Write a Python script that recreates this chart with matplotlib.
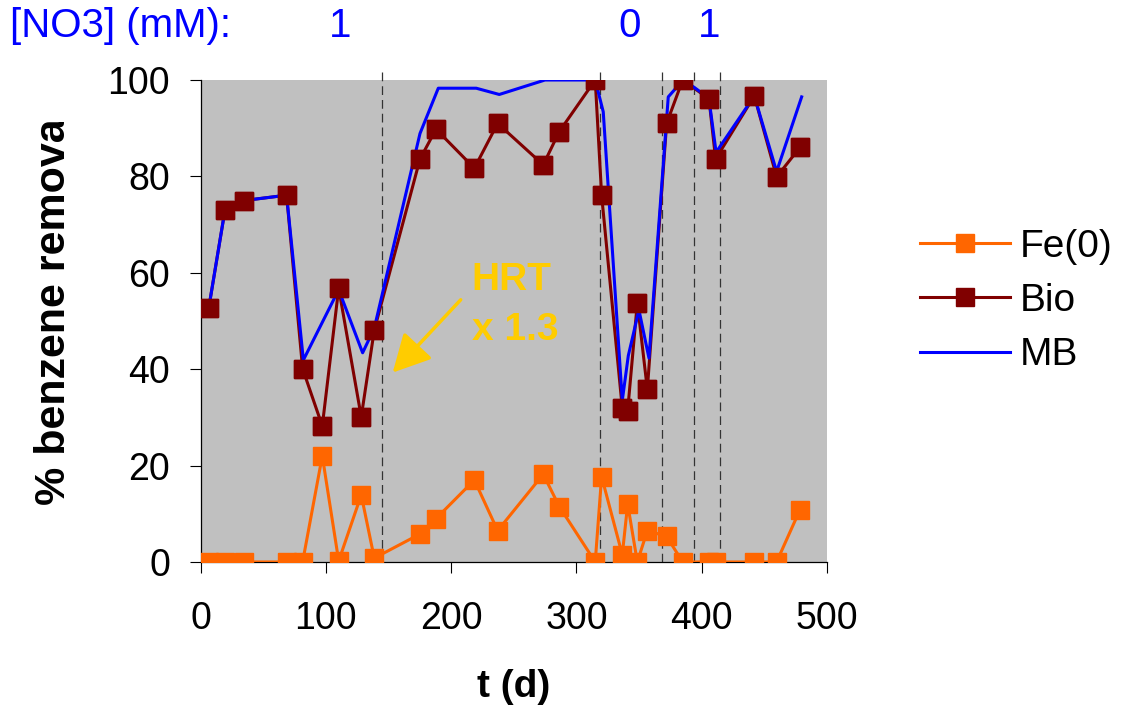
import numpy as np
import matplotlib
matplotlib.use('Agg')
import matplotlib.pyplot as plt
from matplotlib.transforms import Bbox, TransformedBbox, blended_transform_factory

plt.rcParams['font.family'] = ['Liberation Sans', 'DejaVu Sans']

# data
t_bio = [6.4, 19.4, 34.8, 68.6, 81.4, 97.1, 110.2, 128.2, 138.6, 175.1, 187.9, 218.5, 237.1, 273.5,
         286.3, 315.0, 320.1, 336.6, 340.9, 348.6, 356.6, 372.0, 384.8, 405.8, 411.1, 442.0, 459.8, 478.4]
bio = [52.6, 73.0, 75.0, 76.1, 40.1, 28.2, 56.8, 30.1, 48.1, 83.6, 89.8, 81.7, 91.0, 82.4,
       89.3, 100.0, 76.1, 31.9, 31.4, 53.8, 35.8, 91.0, 100.0, 96.1, 83.6, 96.7, 79.9, 86.0]
fe0 = [0.0, 0.0, 0.0, 0.0, 0.0, 22.0, 0.2, 13.9, 0.8, 5.8, 9.0, 17.0, 6.5, 18.2,
       11.5, 0.0, 17.7, 1.5, 12.0, 0.0, 6.5, 5.3, 0.0, 0.0, 0.0, 0.0, 0.0, 10.8]

t_mb = [6.4, 19.4, 34.8, 68.6, 82.0, 110.2, 129.3, 138.6, 175.1, 189.7, 220.0, 238.4, 274.9, 315.0,
        321.4, 336.6, 341.4, 349.9, 357.9, 373.3, 384.8, 393.3, 398.6, 405.8, 411.5, 442.0, 459.8, 479.8]
mb = [52.6, 73.0, 75.0, 76.1, 41.9, 56.5, 43.4, 48.5, 88.9, 98.3, 98.3, 97.0, 100.0, 100.0,
      93.4, 33.5, 42.8, 52.3, 42.3, 96.5, 99.9, 98.6, 97.6, 96.1, 85.0, 96.7, 81.0, 96.5]

change_days = [145, 319, 368.3, 394, 414.8]
no3_x = [111.2, 342.7, 405.8]
no3_labels = ['1', '0', '1']

orange = '#FF6600'
maroon = '#800000'
gold = '#FFCC00'

fig = plt.figure(figsize=(11.21, 7.10), dpi=100)
ax = fig.add_axes([0.179, 0.2085, 0.5587, 0.6788])
ax.set_facecolor('#C0C0C0')

for d in change_days:
    ax.plot([d, d], [0, 102], color='#333333', lw=0.9, linestyle=(0, (7, 4)),
            clip_on=False, zorder=1.5)

ax.plot(t_bio, fe0, color=orange, lw=2.2, marker='s', ms=13.5, mec=orange,
        label='Fe(0)', zorder=3)
ax.plot(t_bio, bio, color=maroon, lw=2.2, marker='s', ms=13.5, mec=maroon,
        label='Bio', zorder=2)
ax.plot(t_mb, mb, color='#0000FF', lw=2.2, label='MB', zorder=2.5)
# bio markers on top of the MB line
ax.plot(t_bio, bio, ls='none', marker='s', ms=13.5, color=maroon, zorder=4)

ax.set_xlim(0, 500)
ax.set_ylim(0, 100)
ax.set_xticks(np.arange(0, 501, 100))
ax.set_yticks(np.arange(0, 101, 20))
ax.tick_params(direction='out', length=8, width=0.8, labelsize=27)
ax.tick_params(axis='x', pad=20)
ax.tick_params(axis='y', pad=14)
for s in ['top', 'right']:
    ax.spines[s].set_visible(False)
for s in ['left', 'bottom']:
    ax.spines[s].set_linewidth(0.9)

ax.set_xlabel('t (d)', fontsize=28, fontweight='bold')
ax.xaxis.set_label_coords(0.5, -0.222)
ylab = ax.set_ylabel('% benzene removal', fontsize=31, fontweight='bold')
ax.yaxis.set_label_coords(-0.2026, 0.531)
ylab.set_clip_on(True)
ylab.set_clip_box(TransformedBbox(Bbox([[0, 0], [1, 1 - 121.7 / 710]]), fig.transFigure))

# HRT annotation
ax.text(216.3, 56.4, 'HRT', color=gold, fontsize=28, fontweight='bold', va='baseline')
ax.text(216.3, 46.1, 'x 1.3', color=gold, fontsize=28, fontweight='bold', va='baseline')
ax.annotate('', xy=(153.3, 39.3), xytext=(207.6, 54.4),
            arrowprops=dict(arrowstyle='-|>,head_length=1.15,head_width=0.6',
                            mutation_scale=20, color=gold, lw=2.5,
                            shrinkA=0, shrinkB=0), zorder=5)

# nitrate concentration row
fig.text(10 / 1121, 1 - 36.7 / 710, '[NO3] (mM):', color='#0000FF', fontsize=29, va='baseline')
tr = blended_transform_factory(ax.transData, fig.transFigure)
for x, lab in zip(no3_x, no3_labels):
    ax.text(x, 1 - 36.7 / 710, lab, transform=tr, color='#0000FF', fontsize=29,
            ha='center', va='baseline')

fig.legend(loc='center left', bbox_to_anchor=(920 / 1121, 1 - 301 / 710), frameon=False,
           fontsize=28, handlelength=2.31, handletextpad=0.26, labelspacing=0.47,
           borderpad=0, borderaxespad=0)

fig.savefig('out.png', dpi=100)
